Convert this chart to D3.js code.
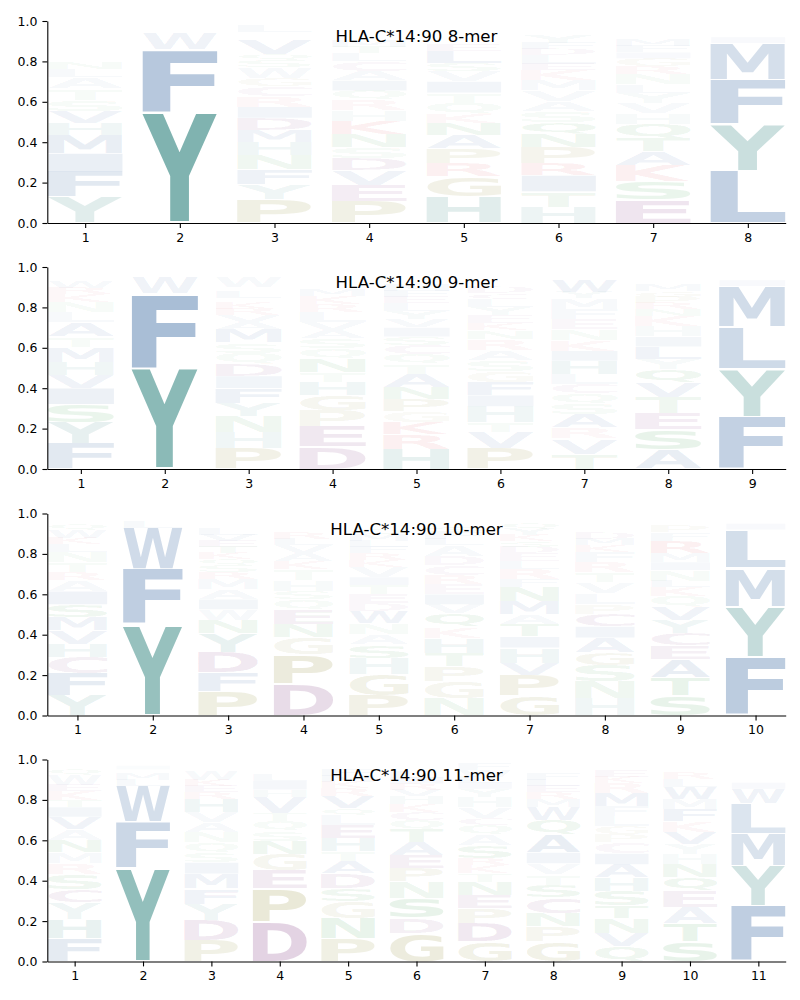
<!DOCTYPE html>
<html>
<head>
<meta charset="utf-8">
<script src="https://cdn.jsdelivr.net/npm/d3@7"></script>
<style>
body { margin: 0; background: #fff; }
svg { display: block; }
</style>
</head>
<body>
<div id="chart"></div>
<script>
// each column is listed bottom to top as [letter, probability]
var titles = ["HLA-C*14:90 8-mer", "HLA-C*14:90 9-mer", "HLA-C*14:90 10-mer", "HLA-C*14:90 11-mer"];

var logo8 = [
  [["Y",.13],["F",.125],["I",.09],["M",.09],["H",.06],["V",.06],["S",.055],["T",.055],["A",.055],["L",.04],["N",.035],["E",.025],["K",.025],["R",.02],["W",.02],["G",.015],["Q",.015],["D",.015],["P",.015],["C",.01]],
  [["Y",.55],["F",.31],["W",.08],["L",.02],["M",.015],["H",.01]],
  [["P",.115],["Y",.075],["F",.075],["N",.07],["H",.065],["M",.06],["D",.06],["I",.055],["R",.05],["C",.05],["G",.04],["W",.055],["S",.035],["Q",.03],["V",.07],["E",.02],["K",.02],["L",.03],["T",.02]],
  [["P",.105],["E",.08],["V",.075],["D",.06],["S",.055],["N",.065],["K",.065],["H",.055],["R",.05],["Q",.045],["I",.05],["A",.045],["C",.05],["L",.04],["T",.03],["M",.03],["W",.025],["G",.02]],
  [["H",.13],["G",.1],["R",.065],["P",.075],["A",.065],["N",.06],["K",.045],["Q",.055],["T",.05],["I",.055],["V",.05],["S",.04],["L",.06],["E",.03],["F",.02],["W",.02],["M",.02]],
  [["H",.08],["T",.075],["I",.08],["R",.06],["P",.08],["N",.065],["Q",.06],["S",.055],["A",.05],["V",.05],["M",.05],["K",.05],["E",.03],["L",.045],["D",.03],["F",.03],["Y",.04],["G",.02],["W",.02]],
  [["E",.115],["S",.09],["K",.08],["A",.07],["T",.065],["Q",.07],["H",.055],["V",.05],["Y",.05],["L",.04],["N",.05],["R",.04],["G",.04],["I",.03],["F",.03],["M",.03],["W",.02],["P",.02]],
  [["L",.26],["Y",.23],["F",.22],["M",.18],["I",.03],["V",.02],["W",.01]]
];

var logo9 = [
  [["F",.125],["Y",.105],["S",.09],["I",.08],["V",.065],["H",.065],["M",.075],["T",.05],["A",.07],["L",.05],["N",.05],["K",.04],["R",.03],["W",.03],["E",.02],["Q",.02],["D",.015]],
  [["Y",.5],["F",.37],["W",.08],["L",.02],["M",.01]],
  [["P",.1],["H",.08],["N",.08],["Y",.065],["F",.075],["I",.06],["D",.06],["Q",.055],["S",.05],["M",.065],["A",.035],["V",.035],["R",.03],["K",.03],["E",.025],["L",.03],["T",.025],["W",.05]],
  [["D",.11],["E",.1],["P",.08],["G",.075],["H",.065],["T",.05],["N",.065],["Q",.05],["S",.05],["A",.04],["V",.04],["L",.05],["R",.04],["K",.04],["M",.03],["F",.02],["W",.02],["Y",.02]],
  [["H",.1],["R",.07],["K",.06],["G",.055],["P",.06],["N",.06],["A",.065],["T",.05],["Q",.05],["C",.045],["S",.04],["I",.045],["V",.04],["Y",.04],["L",.04],["E",.03],["F",.03],["M",.03],["D",.02],["W",.02]],
  [["P",.1],["V",.08],["T",.05],["H",.08],["I",.055],["F",.065],["G",.055],["S",.055],["A",.05],["R",.055],["N",.04],["K",.035],["E",.04],["Y",.04],["L",.04],["C",.03],["D",.03],["Q",.025],["W",.02],["M",.02]],
  [["T",.075],["V",.075],["R",.055],["A",.065],["S",.055],["Q",.05],["C",.045],["L",.05],["H",.065],["I",.05],["K",.055],["N",.05],["E",.05],["F",.05],["M",.055],["Y",.03],["W",.06]],
  [["A",.095],["S",.1],["E",.08],["T",.08],["V",.075],["Q",.065],["Y",.05],["L",.06],["I",.05],["H",.05],["K",.05],["N",.035],["R",.03],["P",.03],["G",.03],["M",.03],["D",.02],["W",.02]],
  [["F",.26],["Y",.235],["L",.21],["M",.2],["I",.03],["W",.02]]
];

var logo10 = [
  [["Y",.1],["F",.11],["C",.08],["H",.065],["V",.065],["M",.065],["S",.065],["I",.065],["A",.055],["R",.04],["T",.05],["N",.05],["L",.04],["K",.03],["W",.04],["Q",.03],["E",.02]],
  [["Y",.45],["F",.275],["W",.205],["L",.03],["M",.02]],
  [["P",.12],["F",.095],["D",.1],["Y",.09],["N",.065],["W",.055],["I",.05],["A",.05],["M",.05],["R",.035],["S",.035],["Q",.03],["K",.03],["T",.03],["E",.03],["V",.03],["L",.03],["G",.02]],
  [["D",.155],["P",.145],["G",.085],["N",.065],["E",.075],["Q",.05],["S",.04],["H",.055],["T",.055],["K",.04],["A",.04],["V",.04],["L",.03],["R",.03],["F",.02],["M",.02]],
  [["P",.1],["G",.105],["H",.08],["S",.065],["A",.05],["N",.055],["W",.06],["D",.04],["E",.045],["T",.045],["I",.04],["V",.05],["K",.035],["R",.035],["F",.03],["L",.03],["M",.03],["Q",.03]],
  [["N",.085],["G",.085],["P",.075],["T",.065],["H",.075],["K",.055],["Q",.065],["V",.045],["I",.05],["E",.05],["R",.045],["C",.05],["D",.045],["A",.055],["L",.03],["F",.03],["S",.03],["Y",.02],["M",.02]],
  [["G",.1],["P",.1],["V",.06],["H",.075],["I",.055],["T",.06],["A",.05],["M",.065],["N",.07],["F",.04],["R",.05],["L",.04],["E",.04],["D",.03],["S",.03],["K",.03],["Y",.03],["Q",.03],["W",.02]],
  [["H",.085],["N",.085],["S",.08],["G",.06],["A",.075],["I",.055],["C",.06],["P",.05],["L",.055],["V",.055],["T",.05],["R",.05],["F",.05],["K",.035],["M",.03],["D",.03],["E",.025],["W",.02]],
  [["S",.1],["T",.09],["A",.09],["E",.065],["C",.06],["Y",.065],["V",.065],["Q",.055],["K",.045],["L",.03],["N",.055],["I",.04],["M",.045],["R",.06],["F",.04],["P",.03],["D",.02]],
  [["F",.29],["Y",.25],["M",.19],["L",.19],["I",.03],["W",.02]]
];

var logo11 = [
  [["F",.115],["H",.095],["Y",.08],["C",.065],["S",.075],["R",.055],["M",.055],["N",.06],["A",.055],["V",.06],["I",.05],["T",.035],["K",.045],["E",.03],["W",.05],["Q",.03]],
  [["Y",.465],["F",.225],["W",.18],["L",.03],["M",.03],["H",.02],["I",.02]],
  [["P",.105],["D",.1],["Y",.08],["F",.075],["M",.075],["I",.055],["S",.05],["Q",.05],["N",.05],["A",.05],["V",.05],["H",.065],["R",.035],["E",.03],["K",.03],["W",.045],["L",.02],["T",.015]],
  [["D",.195],["P",.165],["E",.09],["G",.08],["N",.065],["S",.05],["Q",.05],["T",.04],["V",.08],["H",.035],["I",.045],["L",.03],["K",.025],["R",.02],["W",.02]],
  [["P",.115],["N",.1],["G",.08],["S",.065],["D",.075],["A",.06],["T",.05],["H",.065],["E",.065],["L",.05],["Q",.035],["V",.06],["R",.04],["K",.03],["M",.03],["F",.03],["W",.02]],
  [["G",.14],["D",.075],["S",.1],["N",.08],["P",.065],["E",.065],["A",.065],["T",.065],["Q",.045],["C",.04],["K",.04],["H",.04],["V",.03],["R",.03],["I",.03],["L",.03],["Y",.02],["W",.02]],
  [["G",.1],["D",.09],["P",.075],["E",.065],["N",.065],["T",.04],["K",.04],["R",.035],["S",.065],["A",.055],["Q",.045],["C",.035],["V",.055],["H",.05],["Y",.04],["I",.03],["L",.03],["W",.03],["F",.03],["M",.02]],
  [["G",.1],["P",.075],["N",.065],["C",.075],["S",.065],["T",.05],["V",.055],["I",.055],["A",.09],["Q",.07],["W",.065],["M",.04],["R",.035],["E",.03],["L",.03],["F",.03],["K",.02],["Y",.02],["H",.02]],
  [["Q",.075],["V",.065],["N",.075],["T",.06],["S",.075],["H",.065],["A",.065],["I",.055],["C",.055],["P",.04],["G",.04],["L",.05],["F",.05],["M",.065],["R",.05],["K",.03],["E",.03],["D",.02],["Y",.02]],
  [["S",.1],["T",.09],["A",.08],["E",.08],["Q",.065],["N",.065],["H",.05],["Y",.05],["V",.06],["K",.055],["F",.06],["M",.05],["W",.06],["L",.04],["R",.03],["D",.02]],
  [["F",.275],["Y",.2],["M",.16],["L",.15],["W",.07],["I",.03],["R",.025],["H",.02],["V",.02]]
];

var logos = [logo8, logo9, logo10, logo11];
var yTicks = [0, 0.2, 0.4, 0.6, 0.8, 1.0];

// colour groups, letters get alpha = probability
var aaColor = {};
"AVLIMFW".split("").forEach(c => aaColor[c] = "rgb(23,78,145)");
"YH".split("").forEach(c => aaColor[c] = "rgb(24,117,111)");
"PG".split("").forEach(c => aaColor[c] = "rgb(125,120,20)");
"DEC".split("").forEach(c => aaColor[c] = "rgb(110,30,110)");
"KR".split("").forEach(c => aaColor[c] = "rgb(215,25,35)");
"STNQ".split("").forEach(c => aaColor[c] = "rgb(25,140,45)");

var W = 800, H = 1000;
var left = 47.3, right = 785.7;
var tops = [21, 267, 513.5, 759.5], panelH = 202;
var vpad = 0.04, letterW = 0.79;

var svg = d3.select("#chart").append("svg")
  .attr("width", W).attr("height", H);

// glyph ink box, measured once per letter
var ctx = document.createElement("canvas").getContext("2d");
ctx.font = "bold 100px 'DejaVu Sans'";
var glyph = {};
function metrics(ch) {
  if (!glyph[ch]) {
    var m = ctx.measureText(ch);
    glyph[ch] = {l: m.actualBoundingBoxLeft, r: m.actualBoundingBoxRight,
                 a: m.actualBoundingBoxAscent, d: m.actualBoundingBoxDescent};
  }
  return glyph[ch];
}

logos.forEach(function(cols, i) {
  var n = cols.length;
  var x = d3.scaleLinear().domain([0.6, n + 0.4]).range([left, right]);
  var y = d3.scaleLinear().domain([0, 1]).range([panelH, 0]);

  var g = svg.append("g").attr("transform", "translate(0," + tops[i] + ")");

  // flatten stacks
  var marks = [];
  cols.forEach(function(col, j) {
    var cum = 0;
    col.forEach(function(d) {
      marks.push({pos: j + 1, aa: d[0], p: d[1], y0: cum, y1: cum + d[1]});
      cum += d[1];
    });
  });

  g.append("g").selectAll("text")
    .data(marks)
    .enter()
    .append("text")
    .text(d => d.aa)
    .attr("font-family", "DejaVu Sans")
    .attr("font-weight", "bold")
    .attr("font-size", 100)
    .attr("fill", d => aaColor[d.aa])
    .attr("fill-opacity", d => d.p)
    .attr("transform", function(d) {
      var m = metrics(d.aa);
      var x0 = x(d.pos - letterW / 2), w = x(d.pos + letterW / 2) - x0;
      var h = y(d.y0) - y(d.y1);
      var top = y(d.y1) + h * vpad / 2, hh = h * (1 - vpad);
      var sx = w / (m.l + m.r), sy = hh / (m.a + m.d);
      return "translate(" + (x0 + m.l * sx) + "," + (top + m.a * sy) + ") scale(" + sx + "," + sy + ")";
    });

  // axes
  var xAxis = g.append("g")
    .attr("transform", "translate(0," + panelH + ")")
    .call(d3.axisBottom(x).tickValues(d3.range(1, n + 1)).tickSizeInner(4.9).tickSizeOuter(0).tickPadding(4.9));
  var yAxis = g.append("g")
    .attr("transform", "translate(" + left + ",0)")
    .call(d3.axisLeft(y).tickValues(yTicks).tickFormat(d3.format(".1f")).tickSizeInner(4.9).tickSizeOuter(0).tickPadding(4.9));

  [xAxis, yAxis].forEach(function(a) {
    a.attr("font-family", "DejaVu Sans").attr("font-size", 12.5);
    a.selectAll("path, line").attr("stroke", "#000").attr("stroke-width", 1.1);
    a.selectAll("text").attr("fill", "#000");
  });

  // title sits inside the axes
  g.append("text")
    .attr("x", (left + right) / 2)
    .attr("y", 21)
    .attr("text-anchor", "middle")
    .attr("font-family", "DejaVu Sans")
    .attr("font-size", 16.6)
    .attr("fill", "#000")
    .text(titles[i]);
});
</script>
</body>
</html>
